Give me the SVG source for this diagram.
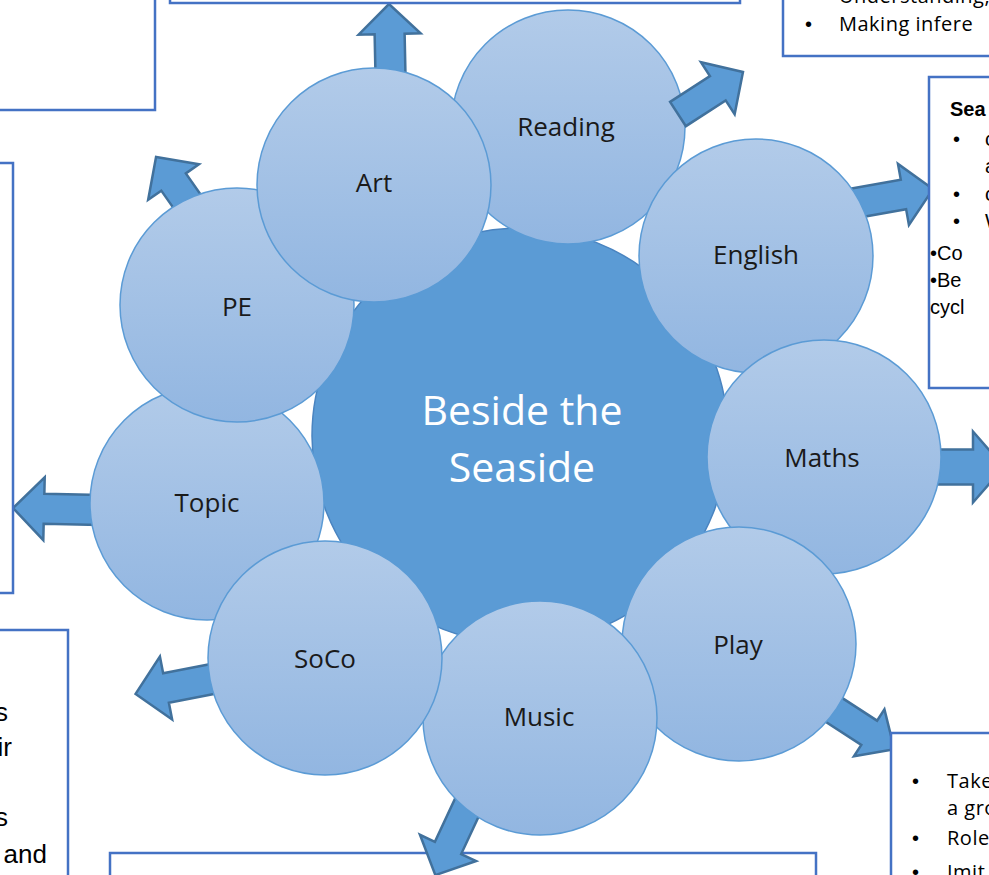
<svg xmlns="http://www.w3.org/2000/svg" width="989" height="875" viewBox="0 0 989 875">
<defs>
<linearGradient id="g" x1="0" y1="0" x2="0" y2="1">
<stop offset="0" stop-color="#B2CBE9"/>
<stop offset="1" stop-color="#92B6E1"/>
</linearGradient>
<style>
.box{fill:#fff;stroke:#4472C4;stroke-width:2.5}
.arr{fill:#5B9BD5;stroke:#41719C;stroke-width:2.5;stroke-linejoin:miter}
.sat{fill:url(#g);stroke:#5B9BD5;stroke-width:1.5}
.lbl{font-family:"Open Sans","Liberation Sans",sans-serif;font-size:26px;fill:#1a1a1a;text-anchor:middle}
.ctr{font-family:"Open Sans","Liberation Sans",sans-serif;font-size:41px;fill:#fff;text-anchor:middle}
.cal{font-family:"Open Sans","Liberation Sans",sans-serif;font-size:20px;fill:#000;letter-spacing:0.5px}
.bul{font-family:"Liberation Sans",Arial,sans-serif;font-size:20px;fill:#000}
.ari{font-family:"Liberation Sans",Arial,sans-serif;font-size:20px;fill:#000}
.arl{font-family:"Liberation Sans",Arial,sans-serif;font-size:26px;fill:#000;text-anchor:end}
</style>
</defs>
<rect width="989" height="875" fill="#fff"/>
<g id="connectors">
<polygon id="arrow-art" class="arr" points="0,-15 66,-15 66,-31 96,0 66,31 66,15 0,15" transform="translate(391,100) rotate(-91.2)"/>
<polygon id="arrow-english" class="arr" points="0,-15 54.3,-15 54.3,-31 84.3,0 54.3,31 54.3,15 0,15" transform="translate(850,204) rotate(-10.2)"/>
<polygon id="arrow-maths" class="arr" points="0,-17.5 48,-17.5 48,-35.5 79,0 48,35.5 48,17.5 0,17.5" transform="translate(925,467)"/>
<polygon id="arrow-play" class="arr" points="0,-14.5 90,-14.5 90,-28 120,0 90,28 90,14.5 0,14.5" transform="translate(793.7,683.8) rotate(33)"/>
<polygon id="arrow-soco" class="arr" points="0,-15 49.9,-15 49.9,-32 80.9,0 49.9,32 49.9,15 0,15" transform="translate(215,678.5) rotate(169)"/>
<polygon id="arrow-topic" class="arr" points="0,-15 56,-15 56,-31.5 87,0 56,31.5 56,15 0,15" transform="translate(100,510) rotate(181.3)"/>
<polygon id="arrow-pe" class="arr" points="0,-15 40,-15 40,-31 70.5,0 40,31 40,15 0,15" transform="translate(196.5,214.8) rotate(-125)"/>
</g>
<g id="box-topleft"><rect class="box" x="-10" y="-10" width="165" height="120"/></g>
<g id="box-topcenter"><rect class="box" x="170" y="-10" width="570" height="13"/></g>
<g id="box-topright"><rect class="box" x="783" y="-10" width="220" height="66"/>
<text class="cal" x="839" y="3">Understanding,</text>
<text class="bul" x="805" y="31">•</text>
<text class="cal" x="839" y="31">Making infere</text>
</g>
<g id="box-english"><rect class="box" x="929" y="77" width="80" height="311"/>
<text class="ari" x="950" y="116" font-weight="bold">Sea</text>
<text class="ari" x="953" y="146">•</text><text class="ari" x="985" y="146">c</text>
<text class="ari" x="985" y="173">a</text>
<text class="ari" x="953" y="201">•</text><text class="ari" x="985" y="201">c</text>
<text class="ari" x="953" y="228">•</text><text class="ari" x="985" y="228">W</text>
<text class="ari" x="930" y="260">•Co</text>
<text class="ari" x="930" y="287">•Be</text>
<text class="ari" x="930" y="314">cycl</text>
</g>
<g id="box-topic"><rect class="box" x="-10" y="163" width="23" height="430"/></g>
<g id="box-soco"><rect class="box" x="-10" y="630" width="78" height="260"/>
<text class="arl" x="8" y="721">s</text>
<text class="arl" x="12" y="756">ir</text>
<text class="arl" x="8" y="826">s</text>
<text class="arl" x="47" y="863">and</text>
</g>
<g id="box-play"><rect class="box" x="891" y="733" width="110" height="160"/>
<text class="bul" x="912" y="788">•</text><text class="cal" x="947" y="788">Take</text>
<text class="cal" x="947" y="815">a gro</text>
<text class="bul" x="912" y="845">•</text><text class="cal" x="947" y="845">Role</text>
<text class="bul" x="912" y="879">•</text><text class="cal" x="947" y="879">Imit</text>
</g>
<g id="box-music"><rect class="box" x="110" y="853" width="706" height="40"/></g>
<g id="connectors-top">
<polygon id="arrow-music" class="arr" points="0,-14.5 65,-14.5 65,-31 95,0 65,31 65,14.5 0,14.5" transform="translate(475.5,789) rotate(115)"/>
</g>
<g id="center"><circle cx="520" cy="436" r="208" fill="#5B9BD5" stroke="#4A84C0" stroke-width="1.5"/>
<text class="ctr" x="522" y="425">Beside the</text>
<text class="ctr" x="522" y="482">Seaside</text>
</g>
<g id="node-reading"><circle class="sat" cx="568" cy="127" r="117"/><text class="lbl" x="566" y="136">Reading</text></g>
<polygon id="arrow-reading" class="arr" points="0,-14.5 47.4,-14.5 47.4,-31 77.4,0 47.4,31 47.4,14.5 0,14.5" transform="translate(678,114) rotate(-32.9)"/>
<g id="node-english"><circle class="sat" cx="756" cy="256" r="117"/><text class="lbl" x="756" y="264">English</text></g>
<g id="node-maths"><circle class="sat" cx="824" cy="457" r="117"/><text class="lbl" x="822" y="467">Maths</text></g>
<g id="node-play"><circle class="sat" cx="739" cy="644" r="117"/><text class="lbl" x="738" y="654">Play</text></g>
<g id="node-music"><circle class="sat" cx="540" cy="718" r="117"/><text class="lbl" x="539" y="726">Music</text></g>
<g id="node-topic"><circle class="sat" cx="207" cy="503" r="117"/><text class="lbl" x="207" y="512">Topic</text></g>
<g id="node-soco"><circle class="sat" cx="325" cy="658" r="117"/><text class="lbl" x="325" y="668">SoCo</text></g>
<g id="node-pe"><circle class="sat" cx="237" cy="305" r="117"/><text class="lbl" x="237" y="316">PE</text></g>
<g id="node-art"><circle class="sat" cx="374" cy="185" r="117"/><text class="lbl" x="374" y="192">Art</text></g>
</svg>
